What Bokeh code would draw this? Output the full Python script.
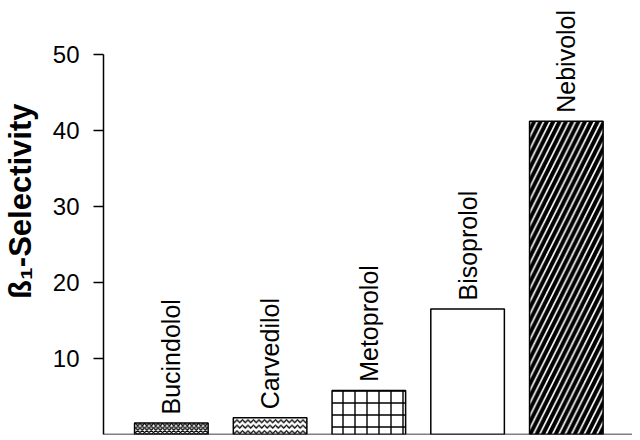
from bokeh.plotting import figure
from bokeh.models import ColumnDataSource, LabelSet, Span, Range1d, FixedTicker, Title
from bokeh.core.properties import value
from bokeh.embed import file_html
from bokeh.resources import INLINE
import math

drugs = ["Bucindolol", "Carvedilol", "Metoprolol", "Bisoprolol", "Nebivolol"]
selectivity = [1.5, 2.2, 5.8, 16.5, 41.2]
hatches = ["diagonal_cross", "horizontal_wave", "cross", "blank", "right_diagonal_line"]
hatch_scales = [4.5, 5.5, 12, 10, 12.7]
hatch_weights = [1.3, 1.3, 1.4, 1.0, 4.0]
y_ticks = [10, 20, 30, 40, 50]

xpos = list(range(1, len(drugs) + 1))
label_y = [v + 1.13 for v in selectivity]

src = ColumnDataSource(dict(x=xpos, top=selectivity, name=drugs, hatch=hatches,
                            hs=hatch_scales, hw=hatch_weights, ly=label_y))

p = figure(width=632, height=436, output_backend="svg", toolbar_location=None,
           x_range=Range1d(0.313, 5.67), y_range=Range1d(0, 57.1),
           min_border_left=103, min_border_right=0, min_border_top=0, min_border_bottom=2)
p.outline_line_color = None
p.grid.visible = False
p.xaxis.visible = False
p.background_fill_color = "white"
p.border_fill_color = "white"

p.vbar(x="x", top="top", bottom=0, width=0.745, source=src, fill_color="white",
       line_color="black", line_width=1.5, hatch_pattern="hatch", hatch_color="black",
       hatch_scale="hs", hatch_weight="hw")

base = Span(location=0, dimension="width", line_color="black", line_width=1.5)
p.add_layout(base)

yax = p.yaxis[0]
yax.ticker = FixedTicker(ticks=y_ticks)
yax.bounds = (0, 50)
yax.axis_line_color = "black"
yax.axis_line_width = 1.5
yax.major_tick_out = 10
yax.major_tick_in = 0
yax.major_tick_line_width = 1.5
yax.minor_tick_line_color = None
yax.major_label_standoff = 14
yax.major_label_text_font = "Liberation Sans"
yax.major_label_text_font_size = "24px"
yax.major_label_text_color = "black"
yax.axis_label = " "
yax.axis_label_text_font_size = "8px"
yax.axis_label_standoff = 0

labels = LabelSet(x="x", y="ly", text="name", source=src, angle=math.pi / 2,
                  text_align="left", text_baseline="middle",
                  text_font=value("Liberation Sans"), text_font_size=value("25px"),
                  text_color="black")
p.add_layout(labels)

ytitle = Title(text="ß\u2081-Selectivity", align="right", offset=103, standoff=0,
               text_font="Liberation Sans", text_font_style="bold",
               text_font_size="31px", text_color="black")
p.add_layout(ytitle, "left")

open("out.html", "w").write(file_html(p, INLINE))
